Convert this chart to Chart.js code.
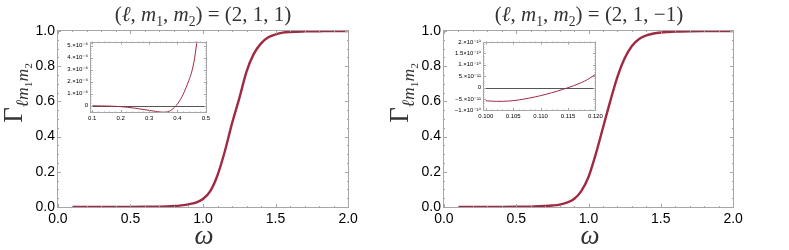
<!DOCTYPE html>
<html><head><meta charset="utf-8">
<script src="https://cdn.jsdelivr.net/npm/chart.js@4"></script>
<style>
body{margin:0;width:789px;height:250px;position:relative;background:#fff;overflow:hidden;font-family:"Liberation Serif","DejaVu Serif",serif;}
canvas{position:absolute;}
.t{position:absolute;white-space:nowrap;color:#333;line-height:1;}
.t sub{font-size:65%;vertical-align:-0.35em;line-height:0;}
.ttl{font-size:21px;transform:translateX(-50%);}
.yl{font-size:27px;transform:translate(-50%,-50%) rotate(-90deg);}
.xl{font-size:27px;font-style:italic;transform:translateX(-50%);}
</style></head><body>
<canvas id="mainA" width="394" height="250" style="left:0;top:0;width:394px;height:250px"></canvas>
<canvas id="mainB" width="403" height="250" style="left:386px;top:0;width:403px;height:250px"></canvas>
<canvas id="insA" width="160" height="90" style="left:55px;top:36px;width:160px;height:90px"></canvas>
<canvas id="insB" width="165" height="90" style="left:440px;top:36px;width:165px;height:90px"></canvas>

<div class="t ttl" style="left:203px;top:4px">(<i>ℓ</i>, <i>m</i><sub>1</sub>, <i>m</i><sub>2</sub>) = (2, 1, 1)</div>
<div class="t ttl" style="left:589px;top:4px">(<i>ℓ</i>, <i>m</i><sub>1</sub>, <i>m</i><sub>2</sub>) = (2, 1, −1)</div>
<div class="t yl" style="left:14px;top:93px">Γ<sub><i>ℓ</i><i>m</i><sub>1</sub><i>m</i><sub>2</sub></sub></div>
<div class="t yl" style="left:400px;top:93px">Γ<sub><i>ℓ</i><i>m</i><sub>1</sub><i>m</i><sub>2</sub></sub></div>
<div class="t xl" style="left:204px;top:222px">ω</div>
<div class="t xl" style="left:590px;top:222px">ω</div>

<script>
// ---------- data ----------
const omegaA = [0.1,0.2,0.3,0.4,0.5,0.6,0.7,0.75,0.8,0.85,0.9,0.95,1.0,1.05,1.1,1.15,1.2,1.25,1.3,1.35,1.4,1.45,1.5,1.55,1.6,1.7,1.8,1.9,2.0];
const gammaA = [0,0,0,0.0001,0.0003,0.0008,0.002,0.003,0.005,0.009,0.015,0.025,0.045,0.09,0.18,0.315,0.475,0.617,0.77,0.87,0.93,0.965,0.981,0.991,0.995,0.998,0.999,1.0,1.0];

const omegaB = [0.1,0.2,0.3,0.4,0.5,0.6,0.7,0.75,0.8,0.85,0.9,0.95,1.0,1.05,1.1,1.15,1.2,1.25,1.3,1.35,1.4,1.45,1.5,1.55,1.6,1.7,1.8,1.9,2.0];
const gammaB = [0,0,0.0001,0.0003,0.0008,0.002,0.005,0.008,0.013,0.024,0.045,0.09,0.17,0.30,0.45,0.60,0.74,0.845,0.915,0.955,0.975,0.986,0.992,0.995,0.997,0.999,1.0,1.0,1.0];

const insetAOmega = [0.1,0.15,0.2,0.25,0.3,0.33,0.35,0.36,0.37,0.38,0.39,0.4,0.41,0.42,0.43,0.44,0.45,0.46,0.47];
const insetAGamma = [0,-0.02e-6,-0.07e-6,-0.2e-6,-0.38e-6,-0.49e-6,-0.53e-6,-0.52e-6,-0.46e-6,-0.33e-6,-0.12e-6,0.15e-6,0.5e-6,0.95e-6,1.5e-6,2.1e-6,2.8e-6,3.9e-6,5.6e-6];

const insetBOmega = [0.100,0.101,0.102,0.103,0.104,0.105,0.106,0.107,0.108,0.109,0.110,0.111,0.112,0.113,0.114,0.115,0.116,0.117,0.118,0.119,0.120];
const insetBGamma = [-5.8e-11,-5.95e-11,-6.05e-11,-6.05e-11,-5.95e-11,-5.75e-11,-5.45e-11,-5.05e-11,-4.6e-11,-4.1e-11,-3.55e-11,-2.95e-11,-2.3e-11,-1.6e-11,-0.85e-11,-0.05e-11,0.8e-11,1.75e-11,2.8e-11,4.2e-11,5.8e-11];

// ---------- ticks ----------
const mainXTicks = [0,0.5,1.0,1.5,2.0];
const mainYTicks = [0,0.2,0.4,0.6,0.8,1.0];
const insetAXTicks = [0.1,0.2,0.3,0.4,0.5];
const insetAXLabels = ['0.1','0.2','0.3','0.4','0.5'];
const insetAYTicks = [0,1e-6,2e-6,3e-6,4e-6,5e-6];
const insetAYLabels = ['0','1.×10⁻⁶','2.×10⁻⁶','3.×10⁻⁶','4.×10⁻⁶','5.×10⁻⁶'];
const insetBXTicks = [0.100,0.105,0.110,0.115,0.120];
const insetBXLabels = ['0.100','0.105','0.110','0.115','0.120'];
const insetBYTicks = [-1e-10,-5e-11,0,5e-11,1e-10,1.5e-10,2e-10];
const insetBYLabels = ['−1.×10⁻¹⁰','−5.×10⁻¹¹','0','5.×10⁻¹¹','1.×10⁻¹⁰','1.5×10⁻¹⁰','2.×10⁻¹⁰'];

const CURVE = '#9e2b42';
const FRAME = '#a6a6a6';

function pts(xs, ys){ return xs.map((x,i)=>({x, y:ys[i]})); }

function range(min, max, step){ const out=[]; const n=Math.round((max-min)/step); for(let i=0;i<=n;i++) out.push(min+i*step); return out; }

const framePlugin = {
  id:'frame',
  beforeDatasetsDraw(chart, args, o){
    if(!o.zero) return;
    const {ctx, chartArea:a, scales:{y}} = chart;
    const py = Math.round(y.getPixelForValue(0))+0.5;
    ctx.save(); ctx.strokeStyle=o.zeroColor; ctx.lineWidth=1;
    ctx.beginPath(); ctx.moveTo(a.left,py); ctx.lineTo(a.right,py); ctx.stroke(); ctx.restore();
  },
  afterDatasetsDraw(chart, args, o){
    const {ctx, chartArea:a, scales:{x,y}} = chart;
    ctx.save();
    ctx.strokeStyle=o.color; ctx.lineWidth=1;
    ctx.strokeRect(Math.round(a.left)+0.5, Math.round(a.top)+0.5, Math.round(a.right-a.left)-1, Math.round(a.bottom-a.top)-1);
    const tick=(vals,len,axis)=>{
      ctx.beginPath();
      vals.forEach(v=>{
        if(axis==='x'){
          if(v<x.min||v>x.max) return;
          const p=Math.round(x.getPixelForValue(v))+0.5;
          ctx.moveTo(p,a.bottom); ctx.lineTo(p,a.bottom-len);
          ctx.moveTo(p,a.top); ctx.lineTo(p,a.top+len);
        } else {
          if(v<y.min||v>y.max) return;
          const p=Math.round(y.getPixelForValue(v))+0.5;
          ctx.moveTo(a.left,p); ctx.lineTo(a.left+len,p);
          ctx.moveTo(a.right,p); ctx.lineTo(a.right-len,p);
        }
      });
      ctx.stroke();
    };
    tick(o.xMinor,o.minLen,'x'); tick(o.yMinor,o.minLen,'y');
    tick(o.xMajor,o.majLen,'x'); tick(o.yMajor,o.majLen,'y');
    ctx.restore();
  }
};

function makeChart(id, cfg){
  return new Chart(document.getElementById(id), {
    type:'line',
    data:{datasets:[{data:pts(cfg.xs,cfg.ys), borderColor:CURVE, borderWidth:cfg.lw, pointRadius:0, fill:false, cubicInterpolationMode:'monotone'}]},
    options:{
      responsive:false, animation:false, events:[],
      layout:{padding:cfg.pad},
      plugins:{legend:{display:false}, tooltip:{enabled:false},
        frame:{color:FRAME, zero:cfg.zero, zeroColor:'#555', xMajor:cfg.xTicks, yMajor:cfg.yTicks, xMinor:cfg.xMinor, yMinor:cfg.yMinor, majLen:cfg.majLen, minLen:cfg.minLen}},
      scales:{
        x:{type:'linear', min:cfg.xmin, max:cfg.xmax,
          grid:{display:false, drawTicks:false}, border:{display:false},
          afterBuildTicks:s=>{ s.ticks = cfg.xTicks.map(v=>({value:v})); },
          afterFit:s=>{ s.height = cfg.xh; },
          ticks:{autoSkip:false, maxRotation:0, padding:cfg.xpad, color:'#000',
            font:{family:'"Liberation Sans", Arial, "DejaVu Sans", sans-serif', size:cfg.fs},
            callback:(v,i)=>cfg.xLabels[i]}},
        y:{type:'linear', min:cfg.ymin, max:cfg.ymax,
          grid:{display:false, drawTicks:false}, border:{display:false},
          afterBuildTicks:s=>{ s.ticks = cfg.yTicks.map(v=>({value:v})); },
          afterFit:s=>{ s.width = cfg.yw; },
          ticks:{autoSkip:false, padding:cfg.ypad, color:'#000',
            font:{family:'"Liberation Sans", Arial, "DejaVu Sans", sans-serif', size:cfg.fs},
            callback:(v,i)=>cfg.yLabels[i]}}
      }
    },
    plugins:[framePlugin]
  });
}

const mainCommon = {lw:2.4, xmin:-0.006, xmax:2.006, ymin:-0.006, ymax:1.006,
  xTicks:mainXTicks, yTicks:mainYTicks,
  xLabels:mainXTicks.map(v=>v.toFixed(1)), yLabels:mainYTicks.map(v=>v.toFixed(1)),
  xMinor:range(0,2,0.1), yMinor:range(0,1,0.05), majLen:4, minLen:2,
  xh:42, yw:57, xpad:3, ypad:2, fs:14, zero:false};

makeChart('mainA', Object.assign({}, mainCommon, {xs:omegaA, ys:gammaA, pad:{left:0,right:45,top:30,bottom:0}}));
makeChart('mainB', Object.assign({}, mainCommon, {xs:omegaB, ys:gammaB, pad:{left:0,right:55,top:30,bottom:0}}));

makeChart('insA', {xs:insetAOmega, ys:insetAGamma, lw:1, xmin:0.092, xmax:0.504, ymin:-0.6e-6, ymax:5.33e-6,
  xTicks:insetAXTicks, yTicks:insetAYTicks, xLabels:insetAXLabels, yLabels:insetAYLabels,
  xMinor:range(0.1,0.5,0.02), yMinor:range(-0.4e-6,5.2e-6,0.2e-6), majLen:3, minLen:1.5,
  xh:13, yw:35, xpad:2, ypad:2, fs:6, zero:true, pad:{left:0,right:8,top:5,bottom:0}});

makeChart('insB', {xs:insetBOmega, ys:insetBGamma, lw:1, xmin:0.0995, xmax:0.1201, ymin:-1.03e-10, ymax:2.02e-10,
  xTicks:insetBXTicks, yTicks:insetBYTicks, xLabels:insetBXLabels, yLabels:insetBYLabels,
  xMinor:range(0.1,0.12,0.001), yMinor:range(-1e-10,2e-10,1e-11), majLen:3, minLen:1.5,
  xh:15, yw:43, xpad:2, ypad:2, fs:6, zero:true, pad:{left:0,right:8,top:5,bottom:0}});
</script>
</body></html>
